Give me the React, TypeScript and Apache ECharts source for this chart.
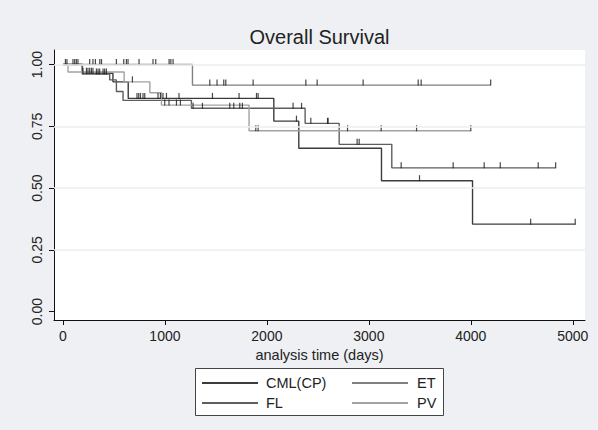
import React, { useEffect, useRef } from "react";
import * as echarts from "echarts";

// Kaplan-Meier step curves: [time (days), survival after that time]
const cmlSteps: [number, number][] = [[0, 1], [190, 0.965], [490, 0.93], [640, 0.863], [2068, 0.771], [2313, 0.661], [3124, 0.53], [4017, 0.354], [5024, 0.354]];
const flSteps: [number, number][] = [[0, 1], [190, 0.962], [458, 0.938], [524, 0.891], [589, 0.855], [1260, 0.823], [2375, 0.762], [2709, 0.677], [3225, 0.582], [4833, 0.582]];
const etSteps: [number, number][] = [[0, 1], [1270, 0.917], [4195, 0.917]];
const pvSteps: [number, number][] = [[0, 1], [49, 0.97], [600, 0.93], [852, 0.886], [966, 0.836], [1825, 0.732], [4000, 0.732]];

// Censoring times (days)
const cmlCensor = [196, 230, 245, 262, 279, 294, 726, 743, 760, 785, 802, 932, 956, 981, 1015, 1138, 1466, 1727, 1898, 1914, 2290, 3497, 4587, 5024];
const flCensor = [328, 344, 360, 393, 409, 426, 1276, 1368, 1636, 1675, 1734, 1760, 2257, 2340, 2431, 2595, 2600, 2885, 2905, 3317, 3827, 4131, 4289, 4661, 4832];
const etCensor = [24, 39, 98, 115, 131, 147, 262, 294, 318, 361, 378, 524, 596, 622, 638, 746, 883, 910, 1041, 1058, 1080, 1440, 1511, 1577, 1597, 1865, 2382, 2493, 2944, 3484, 3513, 4195];
const pvCensor = [681, 998, 1040, 1113, 1152, 1891, 1914, 2791, 3121, 3468, 4000];

const groupNames = ["CML(CP)", "FL", "ET", "PV"];
const groupColors = ["#3c3c3c", "#5e5e5e", "#808080", "#a2a2a2"];
const yTicks = [0, 0.25, 0.5, 0.75, 1];
const xTicks = [0, 1000, 2000, 3000, 4000, 5000];

const sAt = (steps: [number, number][], t: number) => {
  let s = steps[0][1];
  for (const [time, v] of steps) if (time <= t) s = v;
  return s;
};

export default function App() {
  const ref = useRef<HTMLDivElement>(null);
  useEffect(() => {
    if (!ref.current) return;
    const chart = echarts.init(ref.current, undefined, { renderer: "svg" });
    const stepsAll = [cmlSteps, flSteps, etSteps, pvSteps];
    const censAll = [cmlCensor, flCensor, etCensor, pvCensor];
    const font = "Liberation Sans, Arial, sans-serif";
    const series: any[] = [];
    // grid lines
    series.push({
      type: "line",
      data: [],
      silent: true,
      markLine: {
        silent: true,
        symbol: "none",
        label: { show: false },
        lineStyle: { color: "#eceef0", width: 1.5, type: "solid" },
        data: yTicks.filter((v) => v > 0).map((v) => ({ yAxis: v })),
      },
    });
    stepsAll.forEach((st, i) => {
      series.push({
        type: "line",
        name: groupNames[i],
        step: "end",
        data: st,
        showSymbol: false,
        lineStyle: { color: groupColors[i], width: 1.4 },
        z: 3,
      });
    });
    censAll.forEach((cs, i) => {
      series.push({
        type: "scatter",
        data: cs.map((t) => [t, sAt(stepsAll[i], t)]),
        symbol: "rect",
        symbolSize: [1.2, 6],
        symbolOffset: [0, -2.5],
        itemStyle: { color: "#1a1a1a" },
        z: 4,
      });
    });
    const lx1 = [202, 352];
    const ly = [383, 403];
    const legendEls: any[] = [
      { type: "rect", shape: { x: 195.5, y: 368.5, width: 248, height: 47 }, style: { fill: "#fff", stroke: "#444", lineWidth: 1 } },
    ];
    groupNames.forEach((n, i) => {
      const col = i === 0 || i === 1 ? 0 : 1;
      const row = i === 0 || i === 2 ? 0 : 1;
      legendEls.push({
        type: "line",
        shape: { x1: lx1[col], y1: ly[row], x2: lx1[col] + 56, y2: ly[row] },
        style: { stroke: groupColors[i], lineWidth: 1.8 },
      });
      legendEls.push({
        type: "text",
        x: col === 0 ? 266 : 417,
        y: ly[row],
        style: { text: n, fill: "#222", font: `14.5px ${font}`, textVerticalAlign: "middle", textAlign: "left" },
      });
    });
    chart.setOption({
      animation: false,
      backgroundColor: "#eef0f3",
      grid: { left: 54, right: 13, top: 50, bottom: 110, show: true, backgroundColor: "#ffffff", borderWidth: 0 },
      xAxis: {
        type: "value",
        min: -88,
        max: 5120,
        name: "analysis time (days)",
        nameLocation: "middle",
        nameGap: 25,
        nameTextStyle: { fontSize: 14.5, color: "#222", fontFamily: font },
        axisLine: { show: true, onZero: false, lineStyle: { color: "#111", width: 1 } },
        axisTick: { show: true, length: 5, customValues: xTicks, lineStyle: { color: "#111" } },
        axisLabel: { customValues: xTicks, fontSize: 14, color: "#222", fontFamily: font, margin: 9, formatter: (v: number) => String(v) },
        splitLine: { show: false },
      },
      yAxis: {
        type: "value",
        min: -0.034,
        max: 1.059,
        axisLine: { show: true, onZero: false, lineStyle: { color: "#111", width: 1 } },
        axisTick: { show: true, length: 5, customValues: yTicks, lineStyle: { color: "#111" } },
        axisLabel: {
          customValues: yTicks,
          rotate: 90,
          fontSize: 14,
          color: "#222",
          fontFamily: font,
          margin: 10,
          formatter: (v: number) => v.toFixed(2),
        },
        splitLine: { show: false },
      },
      graphic: [
        {
          type: "text",
          x: 319.5,
          y: 37,
          style: { text: "Overall Survival", fill: "#222", font: `20px ${font}`, textAlign: "center", textVerticalAlign: "middle" },
        },
        ...legendEls,
      ],
      series,
    });
    return () => chart.dispose();
  }, []);
  return <div ref={ref} style={{ position: "fixed", left: 0, top: 0, width: 598, height: 430 }} />;
}
